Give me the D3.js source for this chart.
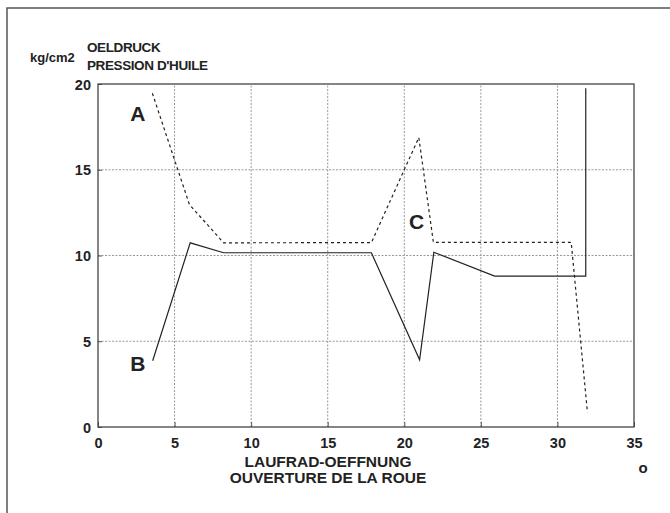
<!DOCTYPE html>
<html><head><meta charset="utf-8">
<script src="https://cdn.jsdelivr.net/npm/d3@7"></script>
<style>body{margin:0;background:#fff}svg{display:block}text{font-family:"Liberation Sans",Arial,sans-serif;font-weight:bold;fill:#222}</style>
</head><body>
<script>
const xTicks = [0,5,10,15,20,25,30,35];
const yTicks = [0,5,10,15,20];
const curveA_x = [3.55,5.97,8.2,17.85,20.95,21.9,30.9,31.96];
const curveA_y = [19.46,12.97,10.74,10.75,16.88,10.77,10.77,0.85];
const curveB_x = [3.57,6.02,8.2,17.85,21.0,21.93,25.9,31.85,31.85];
const curveB_y = [3.86,10.74,10.16,10.16,3.92,10.19,8.8,8.8,19.75];
const curveLabels = ["A","B","C"];
const curveLabelX = [2.6,2.6,20.8];
const curveLabelY = [18.3,3.7,12.0];

const W=670,H=513;
const svg=d3.select("body").append("svg").attr("width",W).attr("height",H);
svg.append("rect").attr("x",7).attr("y",8).attr("width",W).attr("height",H).attr("fill","none").attr("stroke","#555").attr("stroke-width",1.5);

const x=d3.scaleLinear().domain([0,35]).range([98,634]);
const y=d3.scaleLinear().domain([0,20]).range([427,84]);

// grid
const g=svg.append("g");
g.selectAll("line.gx").data(xTicks.slice(1,-1)).join("line").attr("class","gx")
 .attr("x1",d=>x(d)).attr("x2",d=>x(d)).attr("y1",y(0)).attr("y2",y(20))
 .attr("stroke","#999").attr("stroke-width",1).attr("stroke-dasharray","2,1.5");
g.selectAll("line.gy").data(yTicks.slice(1,-1)).join("line").attr("class","gy")
 .attr("y1",d=>y(d)).attr("y2",d=>y(d)).attr("x1",x(0)).attr("x2",x(35))
 .attr("stroke","#999").attr("stroke-width",1).attr("stroke-dasharray","2,1.5");

// axes
const xAxis=d3.axisBottom(x).tickValues(xTicks).tickSize(-5).tickFormat(d3.format("d"));
const ax=svg.append("g").attr("transform",`translate(0,${y(0)})`).call(xAxis);
const yAxis=d3.axisLeft(y).tickValues(yTicks).tickSize(-4).tickPadding(7).tickFormat(d3.format("d"));
const ay=svg.append("g").attr("transform",`translate(${x(0)},0)`).call(yAxis);
[ax,ay].forEach(a=>{a.select(".domain").remove();a.selectAll(".tick line").attr("stroke","#555");
 a.selectAll("text").style("font-size","14.5px").attr("fill","#222");});
ax.selectAll(".tick text").attr("y",21).attr("dy","0");
ay.selectAll(".tick text").attr("dy","0.36em");
svg.append("rect").attr("x",x(0)).attr("y",y(20)).attr("width",x(35)-x(0)).attr("height",y(0)-y(20))
 .attr("fill","none").attr("stroke","#444").attr("stroke-width",1.3);

// lines
const line=d3.line().x(d=>x(d[0])).y(d=>y(d[1]));
const A=curveA_x.map((v,i)=>[v,curveA_y[i]]);
const B=curveB_x.map((v,i)=>[v,curveB_y[i]]);
svg.append("path").attr("d",line(A)).attr("fill","none").attr("stroke","#222").attr("stroke-width",1.2).attr("stroke-dasharray","3,3");
svg.append("path").attr("d",line(B)).attr("fill","none").attr("stroke","#222").attr("stroke-width",1.2);

svg.selectAll("text.cl").data(curveLabels).join("text").attr("class","cl")
 .attr("x",(d,i)=>x(curveLabelX[i])).attr("y",(d,i)=>y(curveLabelY[i]))
 .attr("text-anchor","middle").attr("dy","0.36em").style("font-size","21px").text(d=>d);

// titles
svg.append("text").attr("x",30).attr("y",62).style("font-size","13px").text("kg/cm2");
svg.append("text").attr("x",87).attr("y",52).style("font-size","13.5px").style("letter-spacing","-0.4px").text("OELDRUCK");
svg.append("text").attr("x",87).attr("y",70).style("font-size","13.5px").style("letter-spacing","-0.4px").text("PRESSION D'HUILE");
svg.append("text").attr("x",328).attr("y",467).attr("text-anchor","middle").style("font-size","15.5px").text("LAUFRAD-OEFFNUNG");
svg.append("text").attr("x",328).attr("y",483).attr("text-anchor","middle").style("font-size","15.5px").text("OUVERTURE DE LA ROUE");
svg.append("text").attr("x",643).attr("y",473).attr("text-anchor","middle").style("font-size","15px").text("o");
</script>
</body></html>
